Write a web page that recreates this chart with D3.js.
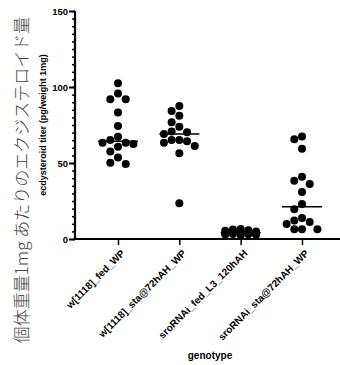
<!DOCTYPE html>
<html>
<head>
<meta charset="utf-8">
<script src="https://cdn.jsdelivr.net/npm/d3@7"></script>
<style>
  body { margin: 0; background: #fff; }
  svg { display: block; font-family: "Liberation Sans", Arial, sans-serif; }
</style>
</head>
<body>
<svg></svg>
<script>
const width = 340,
  height = 365

// categories and titer values (pg/weight 1mg)
const genotypes = ["w[1118]_fed_WP", "w[1118]_sta@72hAH_WP", "sroRNAi_fed_L3_120hAH", "sroRNAi_sta@72hAH_WP"]
const wFed = [102.4, 95.8, 91.9, 91.9, 83.3, 74.3, 67.3, 65.1, 63.4, 63.4, 62.5, 60.7, 57.5, 53.7, 50.2, 49.3]
const wSta = [87.5, 84.2, 81.1, 76.8, 73.9, 70.8, 70.2, 69.1, 65.1, 65.1, 64.3, 63.4, 61.2, 56.4, 23.5]
const sroFed = [6.5, 6.2, 5.8, 5.5, 5.0, 4.8, 4.5, 4.2, 4.0, 3.8, 3.5, 3.3, 3.2, 3.0, 2.8, 2.5]
const sroSta = [67.4, 65.6, 59.4, 41.0, 38.4, 36.2, 30.9, 23.0, 19.5, 13.8, 12.1, 11.2, 9.9, 6.4, 6.4, 6.4]
const groups = [wFed, wSta, sroFed, sroSta]
const yTicks = [0, 50, 100, 150]

const svg = d3.select("svg").attr("width", width).attr("height", height)

const x = d3.scalePoint().domain(genotypes).range([118, 302])
const y = d3.scaleLinear().domain([0, 150]).range([239, 11])

const r = 4, gap = 7.7, maxK = 2

// simple beeswarm, capped width; when full, dots overlap where there's most room
const swarm = (vals, cx) => {
  const placed = []
  const offs = [0]
  for (let k = 1; k <= maxK; k++) offs.push(-k * gap, k * gap)
  vals.slice().sort((a, b) => b - a).forEach(v => {
    const py = y(v)
    let best = 0, bestD = -1
    for (const o of offs) {
      const d = d3.min(placed, p => Math.hypot(p.x - (cx + o), p.y - py)) ?? Infinity
      if (d >= gap - 0.2) { best = o; bestD = Infinity; break }
      if (d > bestD) { bestD = d; best = o }
    }
    placed.push({ x: cx + best, y: py })
  })
  return placed
}

const g = svg.append("g")

// medians
g.selectAll("line.med")
  .data(groups)
  .join("line")
  .attr("class", "med")
  .attr("x1", (d, i) => x(genotypes[i]) - 20)
  .attr("x2", (d, i) => x(genotypes[i]) + 20)
  .attr("y1", d => y(d3.median(d)))
  .attr("y2", d => y(d3.median(d)))
  .attr("stroke", "#000")
  .attr("stroke-width", 1.5)

groups.forEach((vals, i) => {
  g.append("g")
    .selectAll("circle")
    .data(swarm(vals, x(genotypes[i])))
    .join("circle")
    .attr("cx", d => d.x)
    .attr("cy", d => d.y)
    .attr("r", r)
    .attr("fill", "#000")
})

// y axis
const yAxis = svg.append("g").attr("transform", "translate(75,0)")
yAxis.append("g")
  .call(d3.axisLeft(y).tickValues(d3.range(0, 151, 5)).tickSize(3).tickFormat(""))
  .call(a => a.select(".domain").remove())
  .selectAll("line").attr("stroke-width", 1.5)
yAxis.append("g")
  .attr("font-family", null)
  .call(d3.axisLeft(y).tickValues(yTicks).tickSize(6).tickPadding(1))
  .attr("font-family", null)
  .call(a => a.select(".domain").attr("stroke-width", 2.2).attr("d", `M0,${y(150)}V${y(0) + 1}`))
  .call(a => a.selectAll("line").attr("stroke-width", 2))
  .selectAll("text")
  .attr("font-size", 9.5)
  .attr("font-weight", "bold")
  .attr("fill", "#000")

// x axis
const xAxis = svg.append("g").attr("transform", `translate(0,${y(0)})`)
xAxis.call(d3.axisBottom(x).tickSize(6).tickPadding(0))
  .attr("font-family", null)
  .call(a => a.select(".domain").attr("d", "M74,0H345").attr("stroke-width", 2.2))
  .call(a => a.selectAll("line").attr("stroke-width", 1.5))
  .selectAll("text")
  .attr("font-size", 10)
  .attr("font-weight", "bold")
  .attr("fill", "#000")
  .attr("text-anchor", "end")
  .attr("y", 0)
  .attr("dy", "0.7em")
  .attr("transform", "translate(2,10) rotate(-45)")

svg.append("text")
  .attr("x", 210)
  .attr("y", 359)
  .attr("text-anchor", "middle")
  .attr("font-size", 10)
  .attr("font-weight", "bold")
  .text("genotype")

svg.append("text")
  .attr("transform", "translate(46,125) rotate(-90)")
  .attr("text-anchor", "middle")
  .attr("font-size", 9)
  .attr("font-weight", "bold")
  .text("ecdysteroid titer (pg/weight 1mg)")

svg.append("text")
  .attr("transform", "translate(28,180) rotate(-90)")
  .attr("text-anchor", "middle")
  .attr("font-family", "'Noto Sans CJK JP', 'Noto Sans CJK SC', sans-serif")
  .attr("font-size", 17)
  .attr("font-weight", 300)
  .attr("fill", "#444")
  .text("個体重量1mg あたりのエクジステロイド量")
</script>
</body>
</html>
